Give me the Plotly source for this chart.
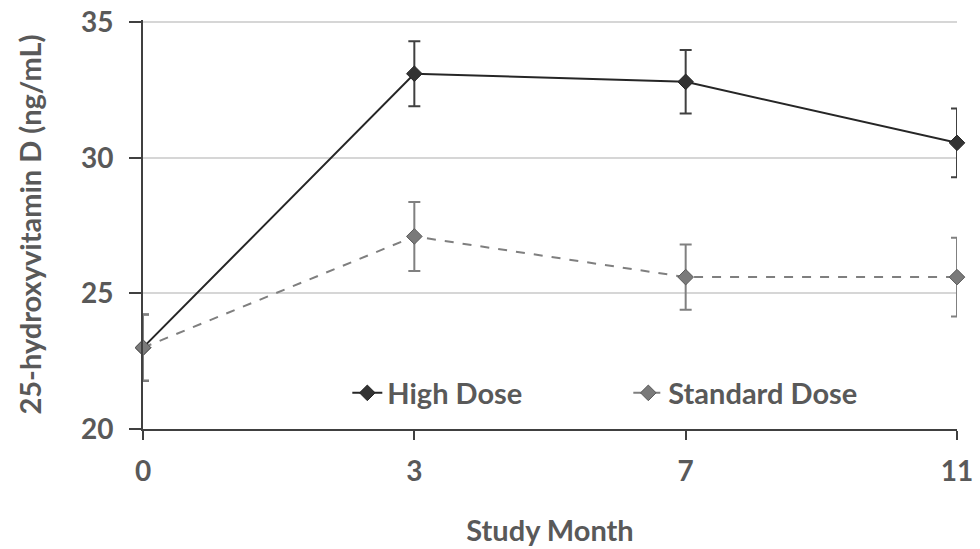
import plotly.graph_objects as go

months = ["0", "3", "7", "11"]
high_dose = [23.0, 33.1, 32.8, 30.55]
high_err = [1.22, 1.2, 1.17, 1.27]
standard_dose = [23.0, 27.1, 25.6, 25.6]
standard_err = [1.22, 1.27, 1.2, 1.45]
y_ticks = [20, 25, 30, 35]

font_family = "Lato, 'Open Sans', sans-serif"
label_color = "#595959"

fig = go.Figure()
fig.add_trace(go.Scatter(
    x=months, y=high_dose, name="High Dose", mode="lines+markers",
    line=dict(color="#262626", width=2),
    marker=dict(symbol="diamond", size=12, color="#333333", line=dict(color="#262626", width=1)),
    error_y=dict(type="data", array=high_err, visible=True, color="#404040", thickness=2, width=6),
    cliponaxis=False,
))
fig.add_trace(go.Scatter(
    x=months, y=standard_dose, name="Standard Dose", mode="lines+markers",
    line=dict(color="#7f7f7f", width=2, dash="dash"),
    marker=dict(symbol="diamond", size=12, color="#7a7a7a", line=dict(color="#5a5a5a", width=1)),
    error_y=dict(type="data", array=standard_err, visible=True, color="#808080", thickness=2, width=6),
    cliponaxis=False,
))

fig.update_layout(
    width=980, height=549,
    margin=dict(l=143, r=23, t=20, b=120, autoexpand=False),
    plot_bgcolor="white", paper_bgcolor="white",
    font=dict(family=font_family, color=label_color, size=28),
    showlegend=True,
    legend=dict(orientation="h", x=0.251, y=0.088, xanchor="left", yanchor="middle",
                bgcolor="rgba(255,255,255,0)",
                font=dict(size=29, color=label_color, family=font_family, weight="bold"),
                entrywidth=236, entrywidthmode="pixels"),
    xaxis=dict(
        type="category", categoryorder="array", categoryarray=months,
        range=[0, 3], showgrid=False, zeroline=False,
        showline=True, linecolor="#404040", linewidth=2,
        ticks="outside", ticklen=9, tickcolor="#404040", tickwidth=2,
        ticklabelstandoff=7, ticklabeloverflow="allow",
        tickfont=dict(size=28, color=label_color, family=font_family, weight="bold"),
        title=dict(text="Study Month", font=dict(size=29, color=label_color, weight="bold"), standoff=35),
    ),
    yaxis=dict(
        range=[20, 35.08], tickvals=y_ticks, showgrid=True, gridcolor="#d6d6d6", gridwidth=2,
        zeroline=False, showline=True, linecolor="#404040", linewidth=2,
        ticks="outside", ticklen=12, tickcolor="#404040", tickwidth=2,
        ticklabelstandoff=10, ticklabeloverflow="allow",
        tickfont=dict(size=28, color=label_color, family=font_family, weight="bold"),
        title=dict(text="25-hydroxyvitamin D (ng/mL)", font=dict(size=29, color=label_color, weight="bold"), standoff=31),
    ),
)

fig.write_html("out.html", config={"displayModeBar": False},
               post_script="document.body.style.margin='0';")
